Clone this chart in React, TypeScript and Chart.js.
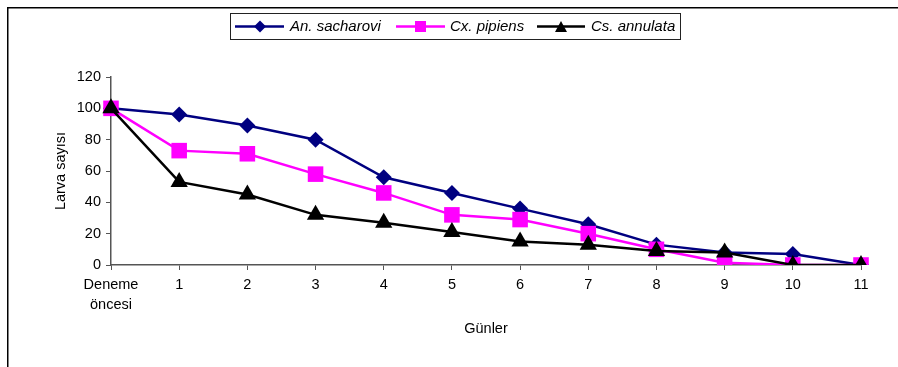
import React, { useEffect, useRef } from "react";
import { Chart, registerables } from "chart.js";

Chart.register(...registerables);

const categories: (string | string[])[] = [["Deneme", "öncesi"], "1", "2", "3", "4", "5", "6", "7", "8", "9", "10", "11"];
const anSacharovi = [100, 96, 89, 80, 56, 46, 36, 26, 13, 8, 7, 0];
const cxPipiens = [100, 73, 71, 58, 46, 32, 29, 20, 10, 1.5, 0, 0];
const csAnnulata = [100, 53, 45, 32, 27, 21, 15, 13, 9, 8, 0, 0];
const seriesNames = ["An. sacharovi", "Cx. pipiens", "Cs. annulata"];
const yTicks = [0, 20, 40, 60, 80, 100, 120];

const FONT = "'Liberation Sans', Arial, sans-serif";
const AXIS_COLOR = "#555555";

const framePlugin = {
  id: "frame",
  beforeDraw(chart: any) {
    const ctx = chart.ctx;
    ctx.save();
    ctx.fillStyle = "#ffffff";
    ctx.fillRect(0, 0, chart.width, chart.height);
    ctx.fillStyle = "#000000";
    ctx.fillRect(7, 7, chart.width - 7, 1.5);
    ctx.fillRect(7, 7, 1.5, chart.height - 7);
    ctx.restore();
  },
};

function drawMarker(ctx: CanvasRenderingContext2D, style: string, x: number, y: number, r: number) {
  ctx.beginPath();
  if (style === "rectRot") {
    ctx.moveTo(x, y - r);
    ctx.lineTo(x + r, y);
    ctx.lineTo(x, y + r);
    ctx.lineTo(x - r, y);
  } else if (style === "rect") {
    ctx.rect(x - r, y - r, 2 * r, 2 * r);
  } else {
    const w = r * 2;
    const h = r * 1.8;
    ctx.moveTo(x, y - h / 2);
    ctx.lineTo(x + w / 2, y + h / 2);
    ctx.lineTo(x - w / 2, y + h / 2);
  }
  ctx.closePath();
  ctx.fill();
}

const legendPlugin = {
  id: "customLegend",
  afterDraw(chart: any) {
    const ctx = chart.ctx;
    ctx.save();
    ctx.strokeStyle = "#222222";
    ctx.lineWidth = 1;
    ctx.strokeRect(230.5, 13.5, 450, 26);
    const cy = 26.5;
    const items = [
      { x0: 235, x1: 284, mx: 260, style: "rectRot", r: 6, color: "#000080", tx: 290 },
      { x0: 396, x1: 445, mx: 420.5, style: "rect", r: 5.5, color: "#FF00FF", tx: 450 },
      { x0: 537, x1: 585, mx: 561, style: "triangle", r: 6, color: "#000000", tx: 591 },
    ];
    items.forEach((it, i) => {
      ctx.strokeStyle = it.color;
      ctx.lineWidth = 2.5;
      ctx.beginPath();
      ctx.moveTo(it.x0, cy);
      ctx.lineTo(it.x1, cy);
      ctx.stroke();
      ctx.fillStyle = it.color;
      drawMarker(ctx, it.style, it.mx, cy, it.r);
      ctx.fillStyle = "#000000";
      ctx.font = `italic 15px ${FONT}`;
      ctx.textBaseline = "middle";
      ctx.textAlign = "left";
      ctx.fillText(seriesNames[i], it.tx, cy);
    });
    ctx.restore();
  },
};

export default function App() {
  const canvasRef = useRef<HTMLCanvasElement | null>(null);

  useEffect(() => {
    const canvas = canvasRef.current;
    if (!canvas) return;
    const chart = new Chart(canvas, {
      type: "line",
      data: {
        labels: categories as any,
        datasets: [
          {
            label: seriesNames[0],
            data: anSacharovi,
            borderColor: "#000080",
            backgroundColor: "#000080",
            borderWidth: 2.5,
            pointStyle: "rectRot",
            pointRadius: 8,
            pointBorderWidth: 0,
            pointBackgroundColor: "#000080",
            tension: 0,
            order: 3,
          },
          {
            label: seriesNames[1],
            data: cxPipiens,
            borderColor: "#FF00FF",
            backgroundColor: "#FF00FF",
            borderWidth: 2.5,
            pointStyle: "rect",
            pointRadius: 11,
            pointBorderWidth: 0,
            pointBackgroundColor: "#FF00FF",
            tension: 0,
            order: 2,
          },
          {
            label: seriesNames[2],
            data: csAnnulata,
            borderColor: "#000000",
            backgroundColor: "#000000",
            borderWidth: 2.5,
            pointStyle: "triangle",
            pointRadius: 10,
            pointBorderWidth: 0,
            pointBackgroundColor: "#000000",
            tension: 0,
            order: 1,
          },
        ],
      },
      options: {
        animation: false,
        responsive: false,
        devicePixelRatio: 1,
        events: [],
        layout: { padding: { left: 0, right: 37, top: 77, bottom: 0 } },
        plugins: {
          legend: { display: false },
          tooltip: { enabled: false },
        },
        scales: {
          x: {
            type: "category",
            offset: false,
            border: { display: true, color: AXIS_COLOR, width: 1.5 },
            grid: {
              display: true,
              drawOnChartArea: false,
              drawTicks: true,
              tickLength: 5,
              color: AXIS_COLOR,
            },
            ticks: {
              color: "#000000",
              padding: 5,
              maxRotation: 0,
              autoSkip: false,
              font: { family: FONT, size: 14.5, lineHeight: 1.38 },
            },
            title: {
              display: true,
              text: "Günler",
              color: "#000000",
              font: { family: FONT, size: 14.5, lineHeight: 1.2 },
              padding: { top: 0, bottom: 29 },
            },
            afterFit(scale: any) {
              scale.height = 102;
            },
          },
          y: {
            min: 0,
            max: 120,
            afterBuildTicks(scale: any) {
              scale.ticks = yTicks.map((v) => ({ value: v }));
            },
            border: { display: true, color: AXIS_COLOR, width: 1.5 },
            grid: {
              display: true,
              drawOnChartArea: false,
              drawTicks: true,
              tickLength: 5,
              color: AXIS_COLOR,
            },
            ticks: {
              color: "#000000",
              padding: 5,
              font: { family: FONT, size: 14.5 },
            },
            title: {
              display: true,
              text: "Larva sayısı",
              color: "#000000",
              font: { family: FONT, size: 14.5, lineHeight: 1.2 },
              padding: { top: 52, bottom: 0 },
            },
            afterFit(scale: any) {
              scale.width = 111;
            },
          },
        },
      },
      plugins: [framePlugin, legendPlugin],
    });
    return () => chart.destroy();
  }, []);

  return (
    <div style={{ position: "fixed", left: 0, top: 0, width: 898, height: 367, background: "#fff" }}>
      <canvas ref={canvasRef} width={898} height={367} style={{ width: 898, height: 367, display: "block" }} />
    </div>
  );
}
